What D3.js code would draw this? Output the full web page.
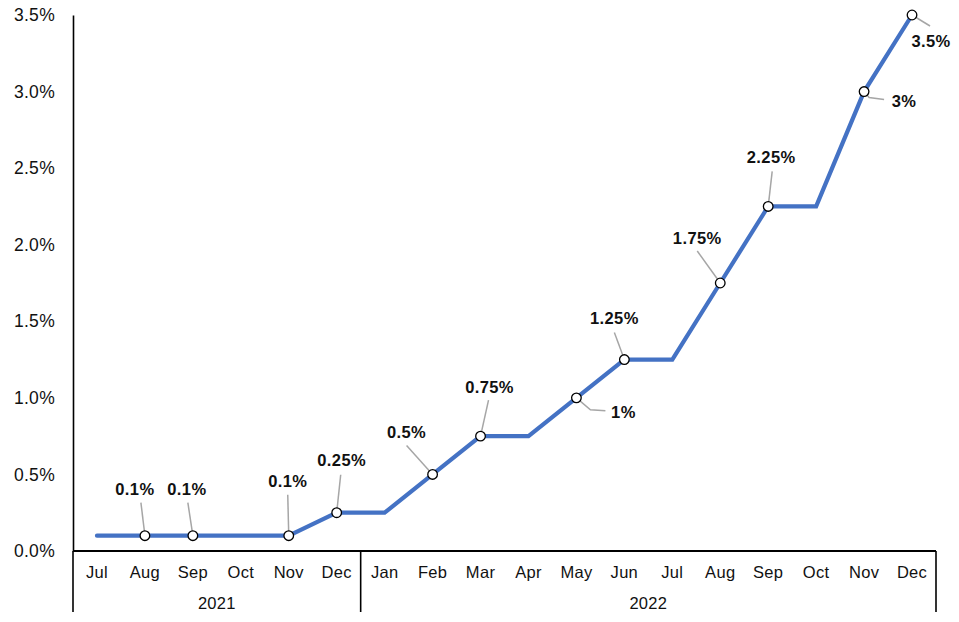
<!DOCTYPE html>
<html>
<head>
<meta charset="utf-8">
<script src="https://cdn.jsdelivr.net/npm/d3@7"></script>
<style>
  html, body { margin: 0; padding: 0; background: #fff; }
  svg { display: block; font-family: "Liberation Sans", Arial, sans-serif; }
</style>
</head>
<body>
<svg id="chart" width="959" height="622"></svg>
<script>
// ---- data ----
const months = ["Jul","Aug","Sep","Oct","Nov","Dec","Jan","Feb","Mar","Apr","May","Jun","Jul","Aug","Sep","Oct","Nov","Dec"];
const years = ["2021","2021","2021","2021","2021","2021","2022","2022","2022","2022","2022","2022","2022","2022","2022","2022","2022","2022"];
const rates = [0.1,0.1,0.1,0.1,0.1,0.25,0.25,0.5,0.75,0.75,1.0,1.25,1.25,1.75,2.25,2.25,3.0,3.5];
const labelled = [1,2,4,5,7,8,10,11,13,14,16,17];
const labelTexts = ["0.1%","0.1%","0.1%","0.25%","0.5%","0.75%","1%","1.25%","1.75%","2.25%","3%","3.5%"];
const yTicks = [0,0.5,1.0,1.5,2.0,2.5,3.0,3.5];

// ---- layout (label placement offsets relative to marker, in px) ----
const labelLayout = [
  {tx:-10, ty:-46, leader:[[-4,-33]]},
  {tx:-6,  ty:-46, leader:[[-5,-33]]},
  {tx:-1,  ty:-54, leader:[[-1,-41]]},
  {tx:5,   ty:-52, leader:[[4,-38]]},
  {tx:-26, ty:-42, leader:[[-26,-29]]},
  {tx:9,   ty:-49, leader:[[8,-36]]},
  {tx:47,  ty:14,  leader:[[14,12],[29,13]]},
  {tx:-10, ty:-41, leader:[[-10,-27]]},
  {tx:-23, ty:-45, leader:[[-23,-32]]},
  {tx:3,   ty:-49, leader:[[4,-35]]},
  {tx:40,  ty:10,  leader:[[5,6],[20,8]]},
  {tx:19,  ty:26,  leader:[[18,11]]}
];

(function () {
const svg = d3.select("#chart");
const mLeft = 73, mRight = 936, mTop = 15, mBottom = 551, axisBottom = 612;

const x = d3.scaleBand().domain(d3.range(months.length)).range([mLeft, mRight]);
const y = d3.scaleLinear().domain([0, 3.5]).range([mBottom, mTop]);
const cx = i => x(i) + x.bandwidth() / 2;

// y axis
const yAxis = d3.axisLeft(y).tickValues(yTicks).tickFormat(d => d.toFixed(1) + "%").tickSize(0).tickPadding(18);
const yg = svg.append("g").attr("transform", `translate(${mLeft},0)`).call(yAxis);
yg.select(".domain").attr("stroke", "#000").attr("stroke-width", 1.6);
yg.selectAll("text").attr("font-size", 17.5).attr("fill", "#111")
  .attr("font-family", "Liberation Sans, Arial, sans-serif").attr("letter-spacing", 0.3);

// x axis baseline
svg.append("line").attr("x1", mLeft).attr("x2", mRight).attr("y1", mBottom).attr("y2", mBottom)
  .attr("stroke", "#000").attr("stroke-width", 1.8);

// month labels
svg.append("g").selectAll("text").data(months).join("text")
  .attr("x", (d, i) => cx(i)).attr("y", 578)
  .attr("text-anchor", "middle").attr("font-size", 16.5).attr("fill", "#111").attr("letter-spacing", 0.3)
  .text(d => d);

// year groups
const yearGroups = d3.groups(years.map((yr, i) => ({yr, i})), d => d.yr);
const sepXs = [mLeft];
yearGroups.forEach(([yr, items]) => {
  const first = items[0].i, last = items[items.length - 1].i;
  const x0 = x(first), x1 = x(last) + x.bandwidth();
  sepXs.push(x1);
  svg.append("text").attr("x", (x0 + x1) / 2).attr("y", 609)
    .attr("text-anchor", "middle").attr("font-size", 16.5).attr("fill", "#111").attr("letter-spacing", 0.3).text(yr);
});
svg.append("g").selectAll("line").data(sepXs).join("line")
  .attr("x1", d => d).attr("x2", d => d).attr("y1", mBottom).attr("y2", axisBottom)
  .attr("stroke", "#000").attr("stroke-width", 1.6);

// line
const line = d3.line().x((d, i) => cx(i)).y(d => y(d));
svg.append("path").datum(rates).attr("d", line)
  .attr("fill", "none").attr("stroke", "#4472C4").attr("stroke-width", 4.2)
  .attr("stroke-linecap", "round").attr("stroke-linejoin", "miter");

// leaders
labelled.forEach((idx, k) => {
  const px = cx(idx), py = y(rates[idx]);
  const L = labelLayout[k];
  const pts = [[px, py]].concat(L.leader.map(p => [px + p[0], py + p[1]]));
  svg.append("path").attr("d", d3.line()(pts))
    .attr("fill", "none").attr("stroke", "#a6a6a6").attr("stroke-width", 1.5);
});

// markers
svg.append("g").selectAll("circle").data(labelled).join("circle")
  .attr("cx", d => cx(d)).attr("cy", d => y(rates[d])).attr("r", 4.8)
  .attr("fill", "#fff").attr("stroke", "#000").attr("stroke-width", 1.3);

// labels
svg.append("g").selectAll("text").data(labelled).join("text")
  .attr("x", (d, k) => cx(d) + labelLayout[k].tx)
  .attr("y", (d, k) => y(rates[d]) + labelLayout[k].ty)
  .attr("dy", "0.35em")
  .attr("text-anchor", "middle").attr("font-size", 16.5).attr("font-weight", "bold").attr("fill", "#111")
  .attr("letter-spacing", 0.4)
  .text((d, k) => labelTexts[k]);
})();
</script>
</body>
</html>
